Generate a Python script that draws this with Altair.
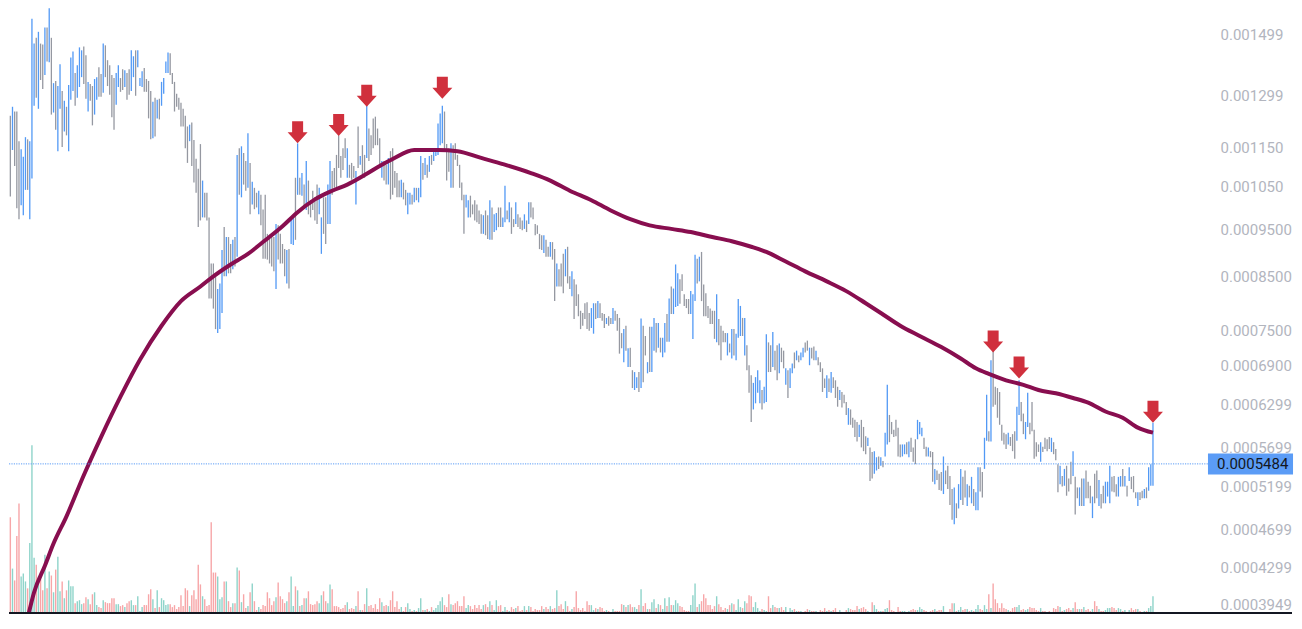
import altair as alt
import pandas as pd

# ---------------- price bars (high / low in millionths) ----------------
HI_A = [1223,1541,1415,1332,1240,1266,1252,1252,1168,1146,
        1126,1179,1173,1168,1556,1468,1488,1509,1468,1465,
        1524,1524,1595,1488,1338,1345,1329,1399,1314,1284,
        1266,1332,1421,1441,1370,1395,1455,1445,1458,1428,
        1342,1335,1329,1351,1357,1389,1367,1468,1462,1412,
        1395,1364,1354,1370,1395,1354,1382,1379,1370,1382,
        1445,1425,1445,1445,1354,1376,1386,1351,1345,1314,
        1281,1293,1287,1290,1342,1354,1408,1438,1435,1370,
        1342,1305,1293,1278,1260,1240,1209,1214,1220,1171,
        1121,1095,1160]
LO_A = [1097,1149,1160,1176,1026,1144,1102,998,973,1005,
        982,1042,1042,973,1070,1269,1293,1260,1348,1320,
        1364,1408,1405,1243,1249,1200,1141,1260,1152,1195,
        1184,1141,1287,1314,1269,1293,1326,1357,1335,1290,
        1252,1284,1212,1243,1287,1296,1296,1308,1357,1329,
        1302,1235,1200,1272,1326,1311,1317,1326,1287,1302,
        1314,1357,1299,1389,1329,1326,1311,1311,1232,1173,
        1176,1181,1232,1229,1269,1305,1370,1370,1364,1335,
        1252,1266,1257,1209,1209,1149,1110,1168,1102,1060,
        1035,955,970]
DIR_A = ("uudddudddu" "uuduuududd" "udududuudu" "duuuduuudd" "udduuddudd"
         "ddduuddudd" "uuduuudddd" "ududuuuudd" "dddddddudd" "ddd")

HI_B = [1065,1035,1035,977,877,877,851,826,837,905,
        955,933,933,918,927,933,1131,1149,1154,1136,
        1115,1190,1110,1062,1047,1035,1040,1030,995,1030,
        940,933,940,933,962,959,940,918,907,905,
        907,977,977,1072,1162,1072,1084,1055,1115,1065,
        1017,1040,1024,1055,1047,977,1024,1024,1055,1115,
        1089,1097,1131,1184,1128,1149,1176,1149,1105,1110,
        1102,1089,1209,1128,1157,1131,1290,1203,1184,1232,
        1237,1203,1176]
LO_B = [977,977,970,808,808,789,752,745,752,781,
        851,851,857,857,865,871,891,1030,1024,1055,
        1040,1047,984,1007,996,1000,984,959,887,887,
        885,877,871,861,826,885,877,877,851,837,
        827,918,916,927,1030,1030,1028,1000,994,984,
        977,994,970,962,984,897,940,918,962,962,
        1030,1047,1047,1097,1072,1092,1123,1072,1072,1067,
        1072,1007,1097,1105,1072,1072,1123,1115,1131,1149,
        1157,1157,1105]
DIR_B = ("udddddduuu" "duddududud" "dududduddd" "dddduddddu" "duudududud"
         "dddduudduu" "dddddddudd" "dududduddd" "ddd")

HI_C = [1115,1115,1105,1123,1141,1149,1089,1084,1065,1067,
        1060,1042,1035,1035,1030,1047,1047,1047,1128,1110,
        1123,1105,1128,1131,1149,1149,1217,1246,1269,1252,
        1160,1149,1162,1157,1162,1131,1105,1060,1030,1030,
        1017,1028,1007,1017,1007,993,984,982,993,982,
        1017,1000,984,987,1000,1000,977,1052,993,1012,
        1000,973,1012,984,977,970,984,970,1012,1012,
        1000,962,959,940,937,937,927,912,922,922,
        907,877,865,877,897,907,912,851]
LO_C = [1072,1065,1055,1055,1019,1030,1047,1024,1024,1024,
        1019,1005,984,1007,1007,1012,1017,1012,1024,1067,
        1079,1072,1087,1105,1115,1128,1131,1157,1162,1146,
        1065,1087,1047,1047,1118,1102,1047,1017,940,1000,
        977,977,984,970,966,962,940,940,937,929,
        927,927,944,948,955,955,955,966,973,966,
        940,955,962,955,951,948,951,944,962,977,
        973,937,940,907,905,899,891,891,891,885,
        803,831,831,831,818,851,837,826]
DIR_C = ("uddudddddu" "dduududuud" "ududuuuuud" "dduddddddu" "uddddddudd"
         "uduudduudu" "ddudddudud" "ddddduddud" "dudddudd")

HI_D = [861,845,835,816,785,781,799,801,781,790,
        799,799,803,799,781,779,772,775,772,790,
        785,779,772,745,752,758,719,720,683,680,
        672,680,771,758,740,696,756,756,772,763,
        763,737,737,763,779,808,831,827,875,857,
        845,855,816,807,807,822,816,895,887,891,
        901,835,818,794,789,785,785,816,770,758,
        749,745,745,727,752,752,744,807,794,772,
        772,724,691,675,663,672,683,667,652,657]
LO_D = [812,770,794,775,752,758,770,752,749,754,
        744,770,772,772,767,754,761,758,761,761,
        767,749,710,719,696,715,688,688,655,652,
        655,649,655,664,707,678,680,680,715,712,
        720,712,704,712,730,730,779,779,792,794,
        798,822,794,790,779,779,735,803,837,841,
        803,775,775,772,761,761,735,729,724,699,
        729,729,707,712,702,707,699,737,740,740,
        707,683,648,605,623,632,648,632,623,632]
DIR_D = ("uddddddddu" "ududdduddu" "ddddududdu" "ududduduud" "uduududuuu"
         "ddddduuudu" "dddddddudd" "ddududuuud" "uddduuuudu")

HI_E = [743,729,724,747,715,724,727,720,715,686,
        683,686,694,712,715,707,712,720,729,732,
        720,720,722,715,704,696,686,670,675,670,
        680,672,667,657,652,649,645,634,625,623,
        611,608,605,601,608,598,585,583,570,564,
        565,557,558,557,552,590,660,615,605,594,
        608,597,574,574,574,577,578,583,570,581,
        608,605,597,583,571,570,565,564,542,540,
        536,538,558,540,546,533,517,519,500,523]
LO_E = [634,680,680,688,683,667,678,696,686,660,
        640,655,678,686,699,696,699,704,712,715,
        691,702,699,699,691,680,649,655,640,649,
        648,655,640,627,637,626,632,615,601,601,
        597,584,578,584,570,565,561,572,527,530,
        536,540,542,546,544,558,574,577,588,584,
        585,558,557,558,561,561,557,564,551,548,
        581,588,585,568,558,558,557,526,523,528,
        516,515,511,523,517,498,481,476,483,494]
DIR_E = ("uddudduddu" "duududuudd" "udduddddud" "udddudddud" "dddudddudd"
         "uududuuddd" "ddduududdd" "uuudduddud" "dduddddudu")

HI_F = [542,532,540,523,521,532,517,513,544,544,
        538,583,645,592,699,715,657,655,649,601,
        590,588,590,584,588,592,627,667,634,617,
        605,648,604,634,594,577,574,577,571,583,
        581,584,583,577,568,548,546,533,542,546,
        530,551,565,532,519,519,530,530,540,526,
        521,508,536,540,528,511,521,526,526,546,
        532,533,523,532,533,542,533,521,544,532,
        533,513,513,513,515,517,519,544,548,604]
LO_F = [504,498,507,497,507,500,497,492,492,514,
        507,542,579,578,578,627,630,611,601,579,
        574,568,574,572,565,555,579,615,606,588,
        581,598,588,592,555,558,564,551,564,568,
        565,568,564,561,553,513,523,520,521,509,
        514,523,533,487,506,497,497,497,506,506,
        500,483,500,506,497,494,500,500,508,500,
        514,513,508,508,520,520,520,508,527,517,
        513,506,497,504,506,506,506,515,521,521]
DIR_F = ("uddududuud" "duududdddd" "dduddduudd" "uudddddudd" "ddudddudud"
         "dduddududd" "duddudduuu" "ddduududud" "ddudduduu" "u")

# ---------------- volume (thousands) ----------------
VOL_A = [35,173,101,71,98,46,34,79,112,38,
         41,33,26,72,171,57,50,38,36,24,
         60,26,43,39,22,45,58,23,33,16,
         24,34,28,28,11,13,14,10,11,17,
         15,10,20,22,9,7,6,14,12,11,
         11,16,16,10,10,8,9,7,11,13,
         14,9,9,18,3,7,9,9,20,25,
         15,6,24,7,16,14,9,10,10,7,
         9,5,7,19,8,26,24,8,19,24,
         15,50,30,18,15,8,9,93,42,42,
         38,15,17,33,33,13,7,11,11,47,
         44,12,20,6,8,22,31,13,4,7,
         5,9,8,22,16,9,13,17,32,18,
         15,11,13,22,38,8,28,24,8,9,
         16,16,23,10,9,10,13,11,19,23,
         13,11,30,25,8,8,7,5,6,9,
         12,5,6,5,8,23,4,4,10,26,
         8,9,6,10,5,16,12,8,9,8,
         14,23,7,13,5]
VOL_B = [7,3,7,11,5,3,4,3,6,16,
         4,4,5,3,7,4,6,9,13,17,
         9,7,20,10,9,11,13,8,8,18,
         6,9,8,5,9,6,9,5,9,10,
         7,13,9,4,14,8,9,3,7,4,
         3,7,5,6,8,3,4,8,4,8,
         7,3,5,4,4,8,5,7,5,8,
         5,6,24,8,10,5,13,8,3,5,
         7,23,6,4,6,3,13,9,9,4,
         6,5,7,6,3,4,3,2,5,3,
         3,3,10,9,7,9,10,7,7,5,
         9,25,8,11,5,5,12,15,6,10,
         9,5,16,8,17,9,9,14,11,8,
         7,4,3,3,9,19,31,7,10,13,
         20,16,9,9,5,8,18,10,7,4,
         6,5,9,11,10,4,15,7,6,13,
         11,19,18,7,12,6,3,5,4,3,
         18,6,9,7,6]
VOL_C = [6,7,4,7,2,6,4,5,3,3,
         3,2,3,5,4,3,3,3,2,4,
         3,6,3,4,3,4,6,2,4,2,
         2,4,6,5,4,4,8,5,6,7,
         5,3,2,12,9,5,3,3,3,5,
         6,14,4,3,2,7,3,3,3,2,
         3,4,5,4,4,7,5,4,3,2,
         3,4,5,3,4,4,8,2,2,5,
         11,11,3,4,7,4,5,5,3,4,
         3,5,9,5,4,9,5,20,6,31,
         15,11,6,11,6,5,4,3,6,7,
         7,9,4,5,4,5,7,6,6,4,
         3,6,3,3,2,3,2,6,5,8,
         7,3,4,5,6,4,6,12,5,5,
         5,7,4,5,3,5,13,8,5,3,
         3,4,6,6,7,6,4,6,5,3,
         4,2,4,6,4,5,5,3,2,3,
         3,6,8,18]

# ---------------- moving average (bar index, price in millionths) ----------------
MA_IDX = [12,15,20,24,30,38,46,55,64,74,
          83,92,98,106,114,122,130,137,145,153,
          160,169,176,181,191,202,211,222,232,245,
          254,263,273,282,291,300,310,319,329,338,
          347,354,363,372,382,391,400,407,416,425,
          435,444,451,457,465,473,480,488,496,503,
          511,519,526,533]
MA_VAL = [382,406,432,455,485,534,584,642,700,758,
          803,831,851,875,897,926,957,989,1019,1040,
          1055,1082,1105,1120,1144,1144,1141,1123,1107,1084,
          1065,1040,1017,993,973,959,951,944,933,924,
          912,901,881,861,841,822,799,781,758,740,
          721,702,686,677,667,660,652,647,640,633,
          620,611,597,590]

# ---------------- signal arrows (bar index, tip price in millionths) ----------------
ARROW_IDX = [137, 156, 169, 204, 459, 471, 533]
ARROW_TIP = [1162, 1182, 1266, 1290, 712, 670, 604]

TICKS = [0.0003949, 0.0004299, 0.0004699, 0.0005199, 0.0005699, 0.0006299,
         0.00069, 0.00075, 0.00085, 0.00095, 0.00105, 0.00115, 0.001299, 0.001499]
LAST_PRICE = 0.0005484

U = 1e-6
HI = HI_A + HI_B + HI_C + HI_D + HI_E + HI_F
LO = LO_A + LO_B + LO_C + LO_D + LO_E + LO_F
DIRS = DIR_A + DIR_B + DIR_C + DIR_D + DIR_E + DIR_F
VOL = VOL_A + VOL_B + VOL_C
n = min(len(HI), len(LO), len(DIRS), len(VOL))

bars = pd.DataFrame({
    "i": list(range(n)),
    "hi": [v * U for v in HI[:n]],
    "lo": [v * U for v in LO[:n]],
    "dir": list(DIRS[:n]),
    "vol": VOL[:n],
})
ma = pd.DataFrame({"i": MA_IDX, "p": [v * U for v in MA_VAL]})
arrows = pd.DataFrame({"i": ARROW_IDX, "p": [v * U for v in ARROW_TIP]})
last = pd.DataFrame({"p": [LAST_PRICE], "txt": [f"{LAST_PRICE:.7f}"]})

W, H = 1200, 606
X0, X1 = 3.3796, 558.94
xs = alt.Scale(domain=[X0, X1], nice=False, zero=False, padding=0)
ys = alt.Scale(type="log", domain=[0.00038581, 0.0015956], nice=False, zero=False, padding=0)
vs = alt.Scale(domain=[0, 614], nice=False, zero=True, padding=0)

BLUE = "#5299f5"
GRAY = "#9598a1"
TEAL = "#8fd4ca"
PINK = "#f7a6a8"
LABEL_BLUE = "#5b9cf6"

up = alt.datum.dir == "u"
X = alt.X("i:Q", scale=xs, axis=None)

vol = alt.Chart(bars).transform_filter(f"datum.i >= {X0}").mark_bar(size=1.4, clip=True).encode(
    x=X,
    y=alt.Y("vol:Q", scale=vs, axis=None),
    color=alt.condition(up, alt.value(TEAL), alt.value(PINK)),
)

price = alt.Chart(bars).transform_filter(f"datum.i >= {X0}").mark_rule(strokeWidth=1.3, clip=True).encode(
    x=X,
    y=alt.Y("lo:Q", scale=ys, axis=alt.Axis(
        orient="right", values=TICKS, title=None, grid=False, ticks=False, domain=False,
        labelExpr="datum.value < 0.001 ? format(datum.value, '.7f') : format(datum.value, '.6f')",
        labelFont="Roboto", labelFontSize=15, labelColor="#b2b5be", labelPadding=11,
        labelOverlap=False)),
    y2="hi:Q",
    color=alt.condition(up, alt.value(BLUE), alt.value(GRAY)),
)

maline = alt.Chart(ma).mark_line(color="#880e4f", strokeWidth=4, interpolate="monotone", clip=True).encode(
    x=X,
    y=alt.Y("p:Q", scale=ys, axis=None),
)

dotted = alt.Chart(last).mark_rule(color=LABEL_BLUE, strokeWidth=1, strokeDash=[1.2, 1.2]).encode(
    x=alt.value(0), x2=alt.value(W),
    y=alt.Y("p:Q", scale=ys, axis=None),
)

ARROW_PATH = "M-0.5,-2L0.5,-2L0.5,-1L0.91,-1L0,0L-0.91,-1L-0.5,-1Z"
arrow_marks = alt.Chart(arrows).mark_point(
    shape=ARROW_PATH, size=484, filled=True, opacity=1, color="#d0303d", strokeWidth=0
).encode(
    x=X,
    y=alt.Y("p:Q", scale=ys, axis=None),
)

BOX_PATH = "M-4.05,-1L4.05,-1L4.05,1L-4.05,1Z"
box = alt.Chart(last).mark_point(
    shape=BOX_PATH, size=441, filled=True, opacity=1, color=LABEL_BLUE, strokeWidth=0
).encode(
    x=alt.value(1241.5),
    y=alt.Y("p:Q", scale=ys, axis=None),
)

box_text = alt.Chart(last).mark_text(
    align="left", baseline="middle", font="Roboto", fontSize=15, color="#131722"
).encode(
    x=alt.value(1208),
    y=alt.Y("p:Q", scale=ys, axis=None),
    text="txt:N",
)

baseline = alt.Chart(last).mark_rule(color="#131722", strokeWidth=2).encode(
    x=alt.value(0), x2=alt.value(1283), y=alt.value(H - 1),
)

chart = alt.layer(
    vol, price, maline, dotted, arrow_marks, box, box_text, baseline
).resolve_scale(y="independent").properties(
    width=W, height=H,
    padding={"left": 0, "top": 0, "right": 0, "bottom": 0},
    background="white",
).configure_view(strokeWidth=0)

chart.save("out.html", embed_options={"renderer": "svg", "actions": False})
